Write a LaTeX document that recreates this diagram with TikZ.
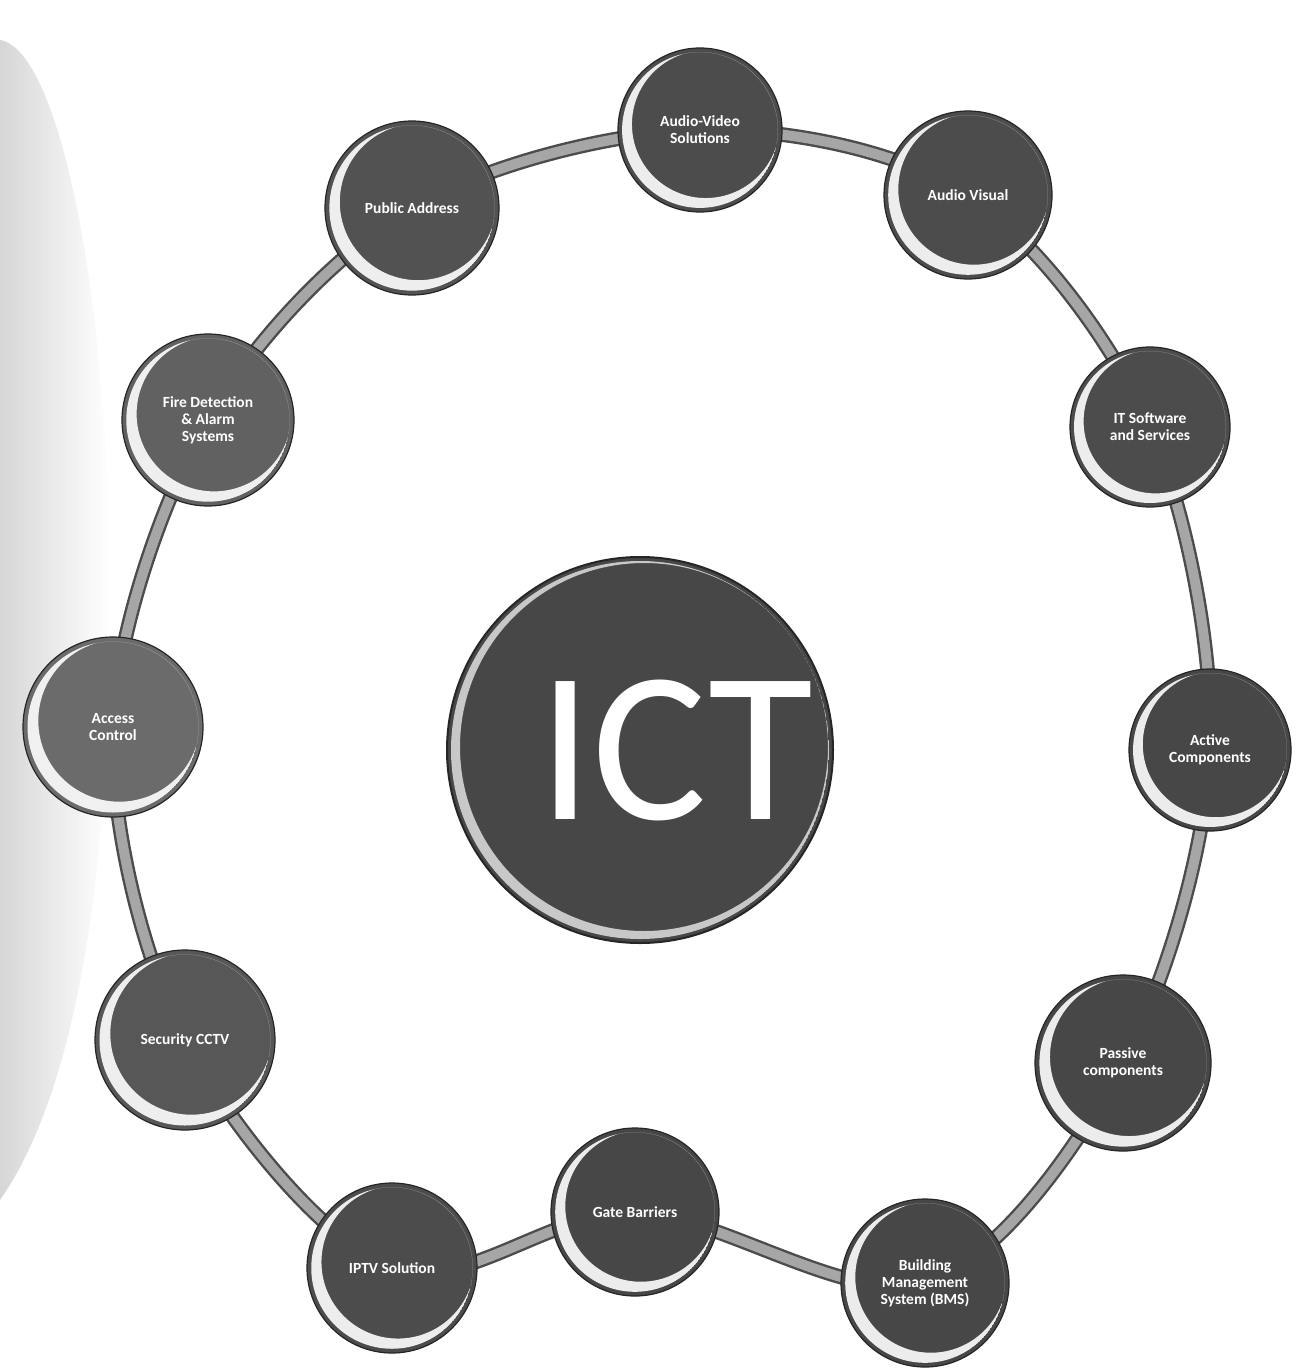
\documentclass[tikz,border=0pt]{standalone}
\usepackage{fontspec}
\setmainfont{Carlito}
\usetikzlibrary{backgrounds}
\tikzset{
  x=1pt, y=-1pt,
  ball/.style={circle, fill=black!70, draw=black!85, line width=1.2pt, inner sep=0pt,
    text=white, font=\bfseries\fontsize{15.5}{17}\selectfont, align=center},
  tube/.style={line width=2.4pt, draw=black!70, double=black!35, double distance=10pt},
  gloss/.style={white, opacity=.9, even odd rule},
}
\newcommand\glossball[6]{%
  \node[ball, fill=#5, minimum size=#4*2pt] (#1) at (#2,#3) {#6};
  \begin{scope}
    \clip (#1.center) circle (#4*0.95pt);
    \fill[gloss] (#1.center) circle (#4*0.95pt)
      ([shift={(#4*0.07pt,#4*0.07pt)}]#1.center) circle (#4*0.9pt);
  \end{scope}}
\begin{document}
\begin{tikzpicture}
\useasboundingbox (0,0) rectangle (1300,1370);

% central ICT disc
\node[circle, fill=black!72, draw=black!85, line width=2pt, minimum size=386pt, inner sep=0pt] (ict) at (640,750) {};
\begin{scope}
  \clip (ict.center) circle (189pt);
  \fill[gloss, opacity=.7] (ict.center) circle (189pt)
    ([shift={(4pt,3pt)}]ict.center) circle (184pt);
\end{scope}
\node[text=white, inner sep=0pt, font=\fontsize{215}{215}\selectfont] (icttext) at (676,750) {ICT};

% satellite discs
\glossball{av}{700}{130}{82}{black!70}{Audio-Video\\Solutions}
\glossball{avis}{968}{195}{84}{black!70}{Audio Visual}
\glossball{pa}{412}{208}{87}{black!68}{Public Address}
\glossball{it}{1150}{427}{80}{black!70}{IT Software\\and Services}
\glossball{fire}{208}{420}{86}{black!62}{Fire Detection\\\& Alarm\\Systems}
\glossball{acc}{113}{727}{90}{black!58}{Access\\Control}
\glossball{act}{1210}{750}{81}{black!72}{Active\\Components}
\glossball{cctv}{185}{1040}{90}{black!66}{Security CCTV}
\glossball{pas}{1123}{1063}{88}{black!72}{Passive\\components}
\glossball{iptv}{392}{1268}{85}{black!70}{IPTV Solution}
\glossball{gate}{635}{1212}{84}{black!72}{Gate Barriers}
\glossball{bms}{925}{1283}{84}{black!72}{Building\\Management\\System (BMS)}

\begin{pgfonlayer}{background}
  \fill[white] (0,0) rectangle (1300,1370);
  \shade[left color=black!16, right color=white, draw=none]
    (0,40) .. controls (60,50) and (110,300) .. (110,600)
    .. controls (110,900) and (70,1100) .. (0,1200) -- cycle;
  \draw[tube] plot[smooth cycle, tension=0.55] coordinates
    {(av) (avis) (it) (act) (pas) (bms) (gate) (iptv) (cctv) (acc) (fire) (pa)};
\end{pgfonlayer}
\end{tikzpicture}
\end{document}
